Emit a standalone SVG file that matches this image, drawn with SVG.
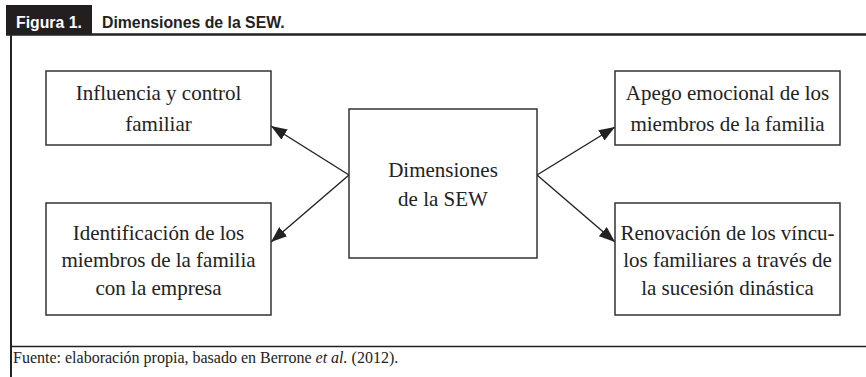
<svg xmlns="http://www.w3.org/2000/svg" width="866" height="377" viewBox="0 0 866 377">
<style>
.frame{stroke:#222;fill:none}
.box{fill:#fff;stroke:#333;stroke-width:1.5}
.t{font-family:"Liberation Serif","Times New Roman",serif;font-size:21px;fill:#222;text-anchor:middle}
.hd{font-family:"Liberation Sans",Arial,sans-serif;font-size:15.8px;font-weight:bold}
.ft{font-family:"Liberation Serif","Times New Roman",serif;font-size:16px;fill:#222}
.conn{stroke:#222;stroke-width:1.4;fill:none;marker-end:url(#ah)}
</style>
<defs>
<marker id="ah" viewBox="0 0 16 12" refX="16" refY="6" markerWidth="16" markerHeight="12" markerUnits="userSpaceOnUse" orient="auto">
<path d="M0,0 L16,6 L0,12 Z" fill="#222"/>
</marker>
</defs>
<rect width="866" height="377" fill="#fff"/>
<g id="header">
<rect x="6" y="5" width="86" height="30" fill="#231f20"/>
<line class="frame" x1="6" y1="34.5" x2="866" y2="34.5" stroke-width="2.5"/>
<line class="frame" x1="11" y1="34" x2="11" y2="377" stroke-width="2"/>
<text class="hd" x="16" y="28" fill="#fff">Figura 1.</text>
<text class="hd" x="102" y="28" fill="#222">Dimensiones de la SEW.</text>
</g>
<g id="footer">
<line class="frame" x1="10" y1="346.5" x2="866" y2="346.5" stroke-width="1.5"/>
<text class="ft" x="13" y="363">Fuente: elaboración propia, basado en Berrone <tspan font-style="italic">et al.</tspan> (2012).</text>
</g>
<g id="connectors">
<line class="conn" x1="349" y1="175" x2="271" y2="126"/>
<line class="conn" x1="349" y1="175" x2="271" y2="242"/>
<line class="conn" x1="537" y1="175" x2="615" y2="127"/>
<line class="conn" x1="537" y1="175" x2="615" y2="242"/>
</g>
<g id="n-center">
<rect class="box" x="349" y="109" width="188" height="149"/>
<text class="t" x="443" y="177">Dimensiones</text>
<text class="t" x="443" y="206">de la SEW</text>
</g>
<g id="n-influencia">
<rect class="box" x="46" y="71" width="225" height="74"/>
<text class="t" x="158.5" y="100">Influencia y control</text>
<text class="t" x="158.5" y="131">familiar</text>
</g>
<g id="n-identificacion">
<rect class="box" x="46" y="203" width="225" height="112"/>
<text class="t" x="158.5" y="240">Identificación de los</text>
<text class="t" x="158.5" y="267">miembros de la familia</text>
<text class="t" x="158.5" y="295">con la empresa</text>
</g>
<g id="n-apego">
<rect class="box" x="615" y="71" width="225" height="74"/>
<text class="t" x="727.5" y="100">Apego emocional de los</text>
<text class="t" x="727.5" y="131">miembros de la familia</text>
</g>
<g id="n-renovacion">
<rect class="box" x="615" y="203" width="225" height="112"/>
<text class="t" x="727.5" y="240">Renovación de los víncu-</text>
<text class="t" x="727.5" y="267">los familiares a través de</text>
<text class="t" x="727.5" y="295">la sucesión dinástica</text>
</g>
</svg>
